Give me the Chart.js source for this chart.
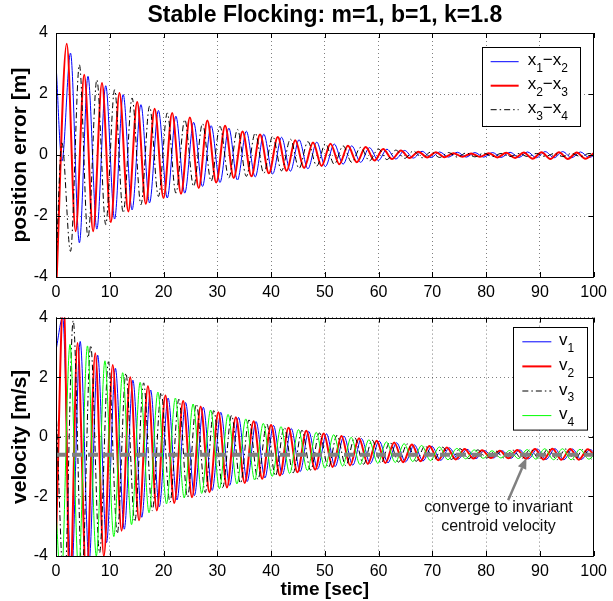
<!DOCTYPE html>
<html>
<head>
<meta charset="utf-8">
<script src="https://cdn.jsdelivr.net/npm/chart.js"></script>
<style>
html,body{margin:0;padding:0;background:#fff;}
#wrap{position:relative;width:613px;height:601px;overflow:hidden;background:#fff;}
canvas{position:absolute;left:0;}
</style>
</head>
<body>
<div id="wrap">
<canvas id="c1" width="613" height="300" style="top:0px"></canvas>
<canvas id="c2" width="613" height="301" style="top:300px"></canvas>
</div>
<script>
// ---------------- DATA ----------------
const xTicks = [0, 10, 20, 30, 40, 50, 60, 70, 80, 90, 100];
const yTicks = [-4, -2, 0, 2, 4];

// Top panel: position errors (extrema times [s] and values [m])
const posRedT = [0, 2.0, 3.65, 5.25, 6.9, 8.55, 10.2, 11.8, 13.45, 15.1, 16.7, 18.35, 20.0, 21.6, 23.25, 24.9, 26.55, 28.15, 29.8, 31.45, 33.05, 34.7, 36.35, 37.95, 39.6, 41.25, 42.9, 44.5, 46.15, 47.8, 49.4, 51.05, 52.7, 54.3, 55.95, 57.6, 59.25, 60.85, 62.5, 64.15, 65.75, 67.4, 69.05, 70.65, 72.3, 73.95, 75.6, 77.2, 78.85, 80.5, 82.1, 83.75, 85.4, 87.0, 88.65, 90.3, 91.95, 93.55, 95.2, 96.85, 98.45, 100.1];
const posRedV = [-4.6, 3.65, -2.5, 2.63, -2.5, 2.36, -2.2, 2.03, -1.85, 1.74, -1.6, 1.52, -1.41, 1.38, -1.27, 1.23, -1.08, 1.13, -0.9, 0.96, -0.75, 0.77, -0.7, 0.67, -0.6, 0.59, -0.52, 0.48, -0.43, 0.41, -0.36, 0.37, -0.3, 0.3, -0.24, 0.26, -0.18, 0.2, -0.13, 0.15, -0.1, 0.11, -0.08, 0.09, -0.07, 0.06, -0.06, 0.05, -0.06, 0.06, -0.08, 0.07, -0.1, 0.08, -0.12, 0.09, -0.13, 0.09, -0.13, 0.08, -0.12, 0.07];

const posBlueBlackT = [0, 1.1, 2.7, 4.35, 5.95, 7.6, 9.25, 10.9, 12.5, 14.15, 15.8, 17.4, 19.05, 20.7, 22.3, 23.95, 25.6, 27.25, 28.85, 30.5, 32.15, 33.75, 35.4, 37.05, 38.65, 40.3, 41.95, 43.6, 45.2, 46.85, 48.5, 50.1, 51.75, 53.4, 55.0, 56.65, 58.3, 59.95, 61.55, 63.2, 64.85, 66.45, 68.1, 69.75, 71.35, 73.0, 74.65, 76.3, 77.9, 79.55, 81.2, 82.8, 84.45, 86.1, 87.7, 89.35, 91.0, 92.65, 94.25, 95.9, 97.55, 99.15, 100.8];
const posBlueV = [3.0, -0.2, 3.34, -2.88, 2.58, -2.43, 2.27, -2.1, 1.98, -1.8, 1.65, -1.57, 1.46, -1.41, 1.27, -1.25, 1.07, -1.03, 0.96, -0.9, 0.88, -0.82, 0.78, -0.72, 0.68, -0.62, 0.58, -0.53, 0.5, -0.45, 0.42, -0.38, 0.36, -0.3, 0.3, -0.24, 0.24, -0.18, 0.19, -0.13, 0.15, -0.1, 0.12, -0.08, 0.1, -0.07, 0.09, -0.07, 0.08, -0.07, 0.08, -0.08, 0.09, -0.08, 0.1, -0.09, 0.11, -0.09, 0.11, -0.09, 0.1, -0.08, 0.09];
const posBlackV = [-3.6, 0.4, -3.16, 2.96, -2.72, 2.47, -2.28, 2.14, -1.9, 1.87, -1.63, 1.6, -1.36, 1.38, -1.25, 1.16, -1.03, 1.03, -0.86, 0.94, -0.75, 0.84, -0.7, 0.72, -0.6, 0.62, -0.52, 0.52, -0.44, 0.44, -0.36, 0.37, -0.3, 0.3, -0.24, 0.25, -0.19, 0.2, -0.15, 0.16, -0.11, 0.13, -0.09, 0.1, -0.08, 0.08, -0.07, 0.07, -0.06, 0.06, -0.05, 0.05, -0.05, 0.05, -0.05, 0.05, -0.05, 0.05, -0.05, 0.05, -0.05, 0.05, -0.05];

// Bottom panel: velocities (extrema times [s] and values [m/s])
const velBlueT = [0, 1.25, 2.85, 4.5, 6.15, 7.75, 9.4, 11.05, 12.7, 14.3, 15.95, 17.6, 19.2, 20.85, 22.5, 24.1, 25.75, 27.4, 29.05, 30.65, 32.3, 33.95, 35.55, 37.2, 38.85, 40.45, 42.1, 43.75, 45.4, 47.0, 48.65, 50.3, 51.9, 53.55, 55.2, 56.8, 58.45, 60.1, 61.75, 63.35, 65.0, 66.65, 68.25, 69.9, 71.55, 73.15, 74.8, 76.45, 78.1, 79.7, 81.35, 83.0, 84.6, 86.25, 87.9, 89.5, 91.15, 92.8, 94.45, 96.05, 97.7, 99.35, 100.95];
const velBlueV = [2.9, 4.0, -4.8, 3.2, -4.2, 2.74, -3.55, 2.3, -3.1, 1.9, -2.7, 1.57, -2.35, 1.3, -2.12, 1.15, -1.97, 0.99, -1.8, 0.82, -1.63, 0.65, -1.5, 0.51, -1.38, 0.38, -1.27, 0.28, -1.17, 0.18, -1.08, 0.1, -1.0, 0.02, -0.95, -0.06, -0.9, -0.14, -0.87, -0.2, -0.84, -0.27, -0.81, -0.32, -0.79, -0.37, -0.75, -0.42, -0.73, -0.46, -0.71, -0.47, -0.72, -0.44, -0.74, -0.41, -0.76, -0.4, -0.77, -0.41, -0.76, -0.43, -0.75];

const velRedT = [0, 1.4, 2.6, 4.0, 5.65, 7.3, 8.9, 10.55, 12.2, 13.8, 15.45, 17.1, 18.75, 20.35, 22.0, 23.65, 25.3, 26.9, 28.55, 30.2, 31.8, 33.45, 35.1, 36.75, 38.35, 40.0, 41.65, 43.25, 44.9, 46.55, 48.2, 49.8, 51.45, 53.1, 54.7, 56.35, 58.0, 59.65, 61.25, 62.9, 64.55, 66.2, 67.8, 69.45, 71.1, 72.7, 74.35, 76.0, 77.65, 79.25, 80.9, 82.55, 84.15, 85.8, 87.45, 89.1, 90.7, 92.35, 94.0, 95.65, 97.25, 98.9, 100.55];
const velRedV = [-3.5, 4.7, -5.2, 3.15, -4.8, 2.8, -4.0, 2.41, -3.15, 2.0, -2.8, 1.7, -2.47, 1.39, -2.22, 1.2, -2.03, 1.02, -1.86, 0.82, -1.7, 0.66, -1.55, 0.52, -1.41, 0.4, -1.3, 0.3, -1.19, 0.2, -1.1, 0.11, -1.01, 0.03, -0.96, -0.05, -0.91, -0.13, -0.88, -0.19, -0.85, -0.26, -0.82, -0.31, -0.79, -0.36, -0.76, -0.41, -0.73, -0.45, -0.71, -0.47, -0.72, -0.44, -0.74, -0.41, -0.76, -0.4, -0.77, -0.41, -0.77, -0.42, -0.75];

const velBlackT = [0, 1.55, 3.2, 4.85, 6.45, 8.1, 9.75, 11.4, 13.0, 14.65, 16.3, 17.9, 19.55, 21.2, 22.85, 24.45, 26.1, 27.75, 29.35, 31.0, 32.65, 34.3, 35.9, 37.55, 39.2, 40.8, 42.45, 44.1, 45.75, 47.35, 49.0, 50.65, 52.25, 53.9, 55.55, 57.2, 58.8, 60.45, 62.1, 63.7, 65.35, 67.0, 68.65, 70.25, 71.9, 73.55, 75.15, 76.8, 78.45, 80.1, 81.7, 83.35, 85.0, 86.6, 88.25, 89.9, 91.55, 93.15, 94.8, 96.45, 98.05, 99.7, 101.35];
const velBlackV = [1.0, -5.2, 3.9, -4.6, 3.07, -3.9, 2.52, -3.25, 2.14, -2.85, 1.81, -2.48, 1.48, -2.2, 1.26, -2.02, 1.1, -1.87, 0.88, -1.7, 0.72, -1.56, 0.57, -1.43, 0.43, -1.31, 0.32, -1.21, 0.22, -1.12, 0.13, -1.03, 0.05, -0.97, -0.03, -0.92, -0.11, -0.88, -0.18, -0.85, -0.24, -0.82, -0.3, -0.79, -0.35, -0.76, -0.4, -0.73, -0.44, -0.71, -0.47, -0.71, -0.45, -0.73, -0.42, -0.75, -0.4, -0.77, -0.41, -0.77, -0.42, -0.75, -0.44];

const velGreenT = [0, 0.95, 2.6, 4.2, 5.85, 7.5, 9.1, 10.75, 12.4, 14.05, 15.65, 17.3, 18.95, 20.55, 22.2, 23.85, 25.5, 27.1, 28.75, 30.4, 32.0, 33.65, 35.3, 36.95, 38.55, 40.2, 41.85, 43.45, 45.1, 46.75, 48.4, 50.0, 51.65, 53.3, 54.9, 56.55, 58.2, 59.85, 61.45, 63.1, 64.75, 66.35, 68.0, 69.65, 71.3, 72.9, 74.55, 76.2, 77.8, 79.45, 81.1, 82.75, 84.35, 86.0, 87.65, 89.25, 90.9, 92.55, 94.2, 95.8, 97.45, 99.1, 100.7];
const velGreenV = [-2.5, -5.0, 3.1, -4.5, 3.05, -4.0, 2.55, -3.35, 2.15, -2.95, 1.83, -2.55, 1.5, -2.25, 1.3, -2.05, 1.1, -1.9, 0.9, -1.74, 0.75, -1.58, 0.6, -1.45, 0.45, -1.33, 0.34, -1.23, 0.24, -1.13, 0.15, -1.05, 0.07, -0.98, -0.02, -0.93, -0.1, -0.89, -0.17, -0.86, -0.23, -0.83, -0.29, -0.8, -0.34, -0.77, -0.39, -0.74, -0.44, -0.72, -0.47, -0.71, -0.46, -0.73, -0.43, -0.75, -0.4, -0.77, -0.4, -0.77, -0.42, -0.75, -0.43];

// Invariant centroid velocity (grey dashed reference)
const centroidT = [0, 100];
const centroidV = [-0.6, -0.6];

// ---------------- RENDERING ----------------
const FONT = "'Liberation Sans', Arial, Helvetica, sans-serif";

function pts(T, V) {
  const n = Math.min(T.length, V.length);
  const a = [];
  for (let i = 0; i < n; i++) a.push({x: T[i], y: V[i]});
  return a;
}

function xScale(withTitle) {
  return {
    type: 'linear', min: 0, max: 100,
    afterBuildTicks: s => { s.ticks = xTicks.map(v => ({value: v})); },
    ticks: {color: '#000', font: {family: FONT, size: 16}, padding: 6, maxRotation: 0, autoSkip: false, callback: v => String(v)},
    grid: {color: 'rgba(0,0,0,0.5)', lineWidth: 1, drawTicks: false},
    border: {display: false, dash: [1, 3]},
    title: withTitle ? {display: true, text: 'time [sec]', color: '#000', font: {family: FONT, size: 19, weight: 'bold'}, padding: {top: 0, bottom: 0}} : {display: false},
    afterFit: s => { s.height = withTitle ? 45 : 23; }
  };
}
function yScale(title) {
  return {
    type: 'linear', min: -4, max: 4,
    afterBuildTicks: s => { s.ticks = yTicks.map(v => ({value: v})); },
    ticks: {color: '#000', font: {family: FONT, size: 16}, padding: 8, autoSkip: false, callback: v => String(v)},
    grid: {color: 'rgba(0,0,0,0.5)', lineWidth: 1, drawTicks: false},
    border: {display: false, dash: [1, 3]},
    title: {display: true, text: title, color: '#000', font: {family: FONT, size: 21, weight: 'bold'}, padding: {top: 8, bottom: 0}},
    afterFit: s => { s.width = 56; }
  };
}

function line(label, T, V, color, width, dash, order) {
  return {
    label, data: pts(T, V), borderColor: color, backgroundColor: color,
    borderWidth: width, borderDash: dash || [], pointRadius: 0, pointHoverRadius: 0,
    cubicInterpolationMode: 'monotone', fill: false, order
  };
}

// Box with inward ticks (MATLAB style)
const framePlugin = {
  id: 'frame',
  afterDatasetsDraw(chart) {
    const {ctx, chartArea: a, scales} = chart;
    ctx.save();
    ctx.strokeStyle = '#000';
    ctx.lineWidth = 1;
    ctx.setLineDash([]);
    ctx.beginPath();
    ctx.rect(Math.round(a.left) + 0.5, Math.round(a.top) + 0.5, Math.round(a.right - a.left) - 1, Math.round(a.bottom - a.top));
    const L = 5;
    scales.x.ticks.forEach(t => {
      const p = Math.round(scales.x.getPixelForValue(t.value)) + 0.5;
      ctx.moveTo(p, a.bottom); ctx.lineTo(p, a.bottom - L);
      ctx.moveTo(p, a.top); ctx.lineTo(p, a.top + L);
    });
    scales.y.ticks.forEach(t => {
      const p = Math.round(scales.y.getPixelForValue(t.value)) + 0.5;
      ctx.moveTo(a.left, p); ctx.lineTo(a.left + L, p);
      ctx.moveTo(a.right, p); ctx.lineTo(a.right - L, p);
    });
    ctx.stroke();
    ctx.restore();
  }
};

function legendPlugin(cfg) {
  return {
    id: 'mlegend',
    afterDraw(chart) {
      const {ctx, chartArea: a} = chart;
      const bx = a.right - cfg.right - cfg.w, by = a.top + cfg.top;
      ctx.save();
      ctx.fillStyle = '#fff';
      ctx.fillRect(bx, by, cfg.w, cfg.h);
      ctx.strokeStyle = '#000'; ctx.lineWidth = 1; ctx.setLineDash([]);
      ctx.strokeRect(Math.round(bx) + 0.5, Math.round(by) + 0.5, cfg.w, cfg.h);
      cfg.items.forEach((it, i) => {
        const yy = by + cfg.row0 + i * cfg.dy;
        ctx.beginPath();
        ctx.strokeStyle = it.color; ctx.lineWidth = it.width; ctx.setLineDash(it.dash || []);
        ctx.moveTo(bx + cfg.lx0, yy); ctx.lineTo(bx + cfg.lx1, yy);
        ctx.stroke();
        ctx.setLineDash([]);
        ctx.fillStyle = '#000'; ctx.textBaseline = 'middle'; ctx.textAlign = 'left';
        let x = bx + cfg.tx;
        it.segs.forEach(([txt, sub]) => {
          ctx.font = sub ? `12px ${FONT}` : `17px ${FONT}`;
          ctx.fillText(txt, x, yy + (sub ? 7 : -1));
          x += ctx.measureText(txt).width;
        });
      });
      ctx.restore();
    }
  };
}

const annotPlugin = {
  id: 'annot',
  afterDraw(chart) {
    const {ctx, scales: {x, y}} = chart;
    const x0 = x.getPixelForValue(84.1), y0 = y.getPixelForValue(-2.13);
    const x1 = x.getPixelForValue(87.5), y1 = y.getPixelForValue(-0.71);
    const ang = Math.atan2(y1 - y0, x1 - x0);
    const hl = 11, hw = 4.5;
    const bxp = x1 - hl * Math.cos(ang), byp = y1 - hl * Math.sin(ang);
    ctx.save();
    ctx.strokeStyle = '#808080'; ctx.fillStyle = '#808080';
    ctx.lineWidth = 2.5; ctx.setLineDash([]);
    ctx.beginPath(); ctx.moveTo(x0, y0); ctx.lineTo(bxp, byp); ctx.stroke();
    ctx.beginPath();
    ctx.moveTo(x1, y1);
    ctx.lineTo(bxp + hw * Math.sin(ang), byp - hw * Math.cos(ang));
    ctx.lineTo(bxp - hw * Math.sin(ang), byp + hw * Math.cos(ang));
    ctx.closePath(); ctx.fill();
    ctx.fillStyle = '#111';
    ctx.font = `16px ${FONT}`;
    ctx.textAlign = 'center'; ctx.textBaseline = 'middle';
    const tx = x.getPixelForValue(82.3);
    ctx.fillText('converge to invariant', tx, y.getPixelForValue(-2.36));
    ctx.fillText('centroid velocity', tx, y.getPixelForValue(-3.0));
    ctx.restore();
  }
};

Chart.defaults.font.family = FONT;

new Chart(document.getElementById('c1'), {
  type: 'line',
  data: {
    datasets: [
      line('x1-x2', posBlueBlackT, posBlueV, '#0000ff', 1, null, 3),
      line('x2-x3', posRedT, posRedV, '#ff0000', 2, null, 2),
      line('x3-x4', posBlueBlackT, posBlackV, '#000000', 1, [6, 3, 1.5, 3], 1)
    ]
  },
  options: {
    responsive: false, animation: false, events: [],
    layout: {padding: {left: 0, right: 15, top: 0, bottom: 0}},
    scales: {x: xScale(false), y: yScale('position error [m]')},
    plugins: {
      legend: {display: false}, tooltip: {enabled: false},
      title: {display: true, fullSize: false, text: 'Stable Flocking: m=1, b=1, k=1.8', color: '#000',
        font: {family: FONT, size: 23, weight: 'bold'}, padding: {top: 2, bottom: 3.4}}
    }
  },
  plugins: [framePlugin, legendPlugin({
    right: 14, top: 13.7, w: 98, h: 79, row0: 15, dy: 24, lx0: 9, lx1: 37, tx: 46,
    items: [
      {segs: [['x', 0], ['1', 1], ['\u2212x', 0], ['2', 1]], color: '#0000ff', width: 1},
      {segs: [['x', 0], ['2', 1], ['\u2212x', 0], ['3', 1]], color: '#ff0000', width: 2},
      {segs: [['x', 0], ['3', 1], ['\u2212x', 0], ['4', 1]], color: '#000000', width: 1, dash: [6, 3, 1.5, 3]}
    ]
  })]
});

new Chart(document.getElementById('c2'), {
  type: 'line',
  data: {
    datasets: [
      line('v1', velBlueT, velBlueV, '#0000ff', 1, null, 5),
      line('v2', velRedT, velRedV, '#ff0000', 2, null, 4),
      line('v3', velBlackT, velBlackV, '#000000', 1, [6, 3, 1.5, 3], 3),
      line('v4', velGreenT, velGreenV, '#00ff00', 1, null, 2),
      Object.assign(line('centroid', centroidT, centroidV, '#808080', 4, [10, 6], 1), {cubicInterpolationMode: 'default', tension: 0})
    ]
  },
  options: {
    responsive: false, animation: false, events: [],
    layout: {padding: {left: 0, right: 15, top: 13, bottom: 0}},
    scales: {x: xScale(true), y: yScale('velocity [m/s]')},
    plugins: {legend: {display: false}, tooltip: {enabled: false}}
  },
  plugins: [framePlugin, annotPlugin, legendPlugin({
    right: 6.6, top: 9.7, w: 74, h: 102.6, row0: 14.5, dy: 24.6, lx0: 9.3, lx1: 38.3, tx: 46,
    items: [
      {segs: [['v', 0], ['1', 1]], color: '#0000ff', width: 1},
      {segs: [['v', 0], ['2', 1]], color: '#ff0000', width: 2},
      {segs: [['v', 0], ['3', 1]], color: '#000000', width: 1, dash: [6, 3, 1.5, 3]},
      {segs: [['v', 0], ['4', 1]], color: '#00ff00', width: 1}
    ]
  })]
});
</script>
</body>
</html>
